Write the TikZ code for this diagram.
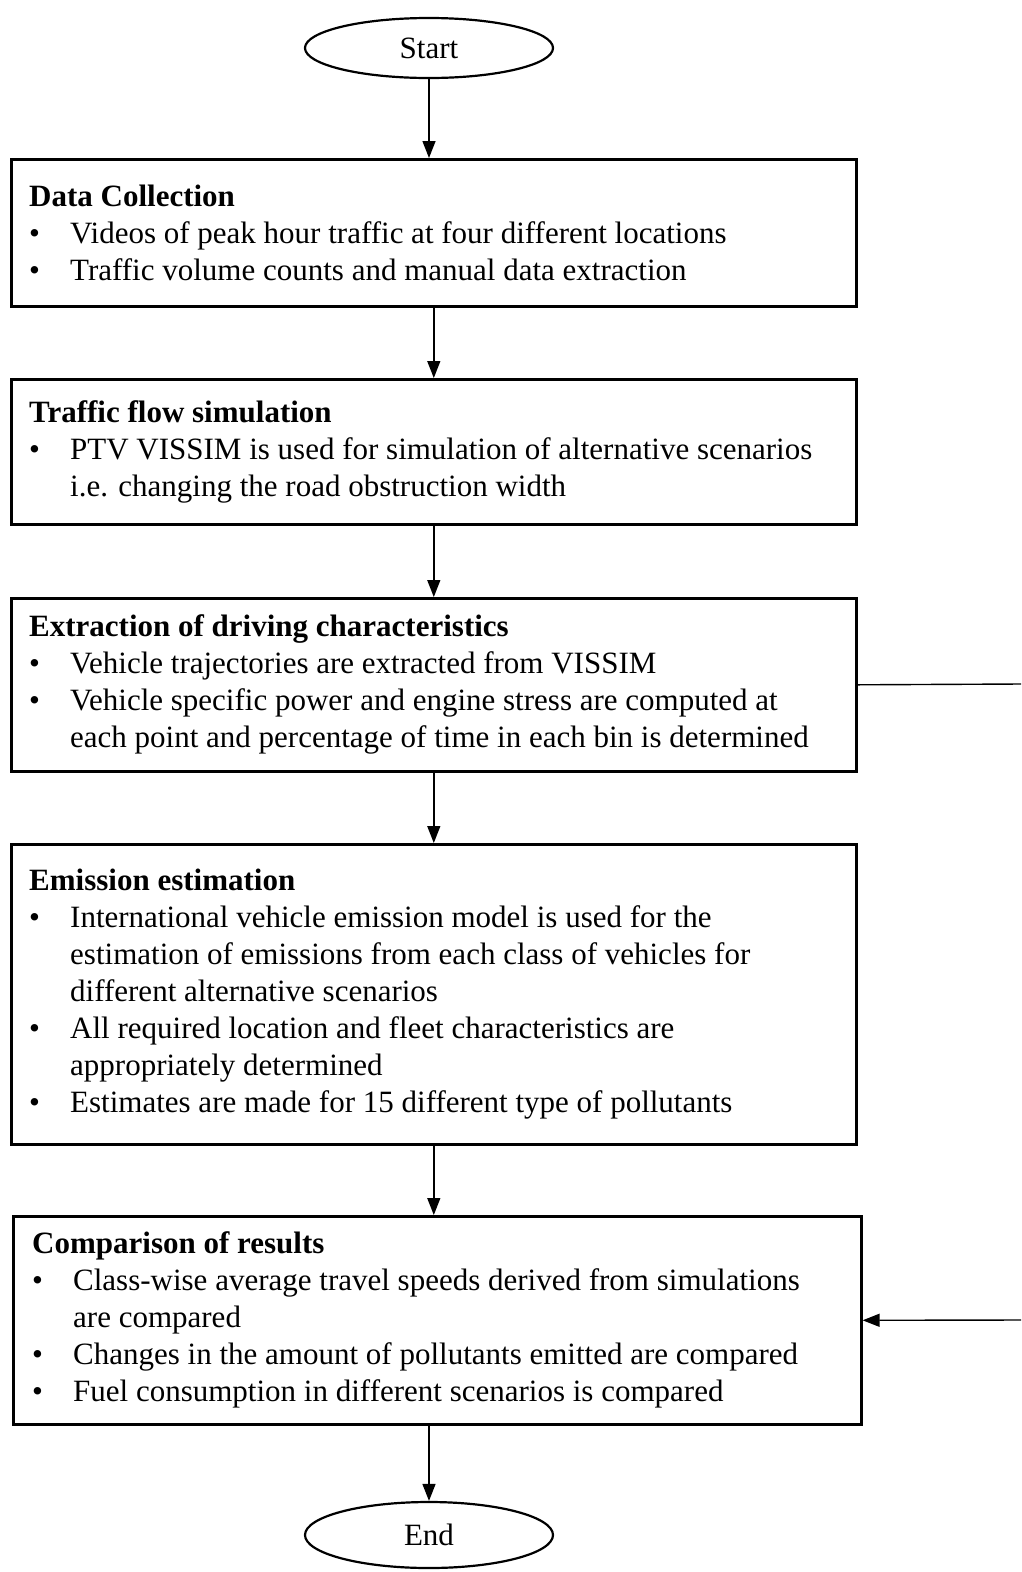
\documentclass[tikz,border=0pt]{standalone}
\usepackage{fontspec}
\setmainfont{Liberation Serif}
\usetikzlibrary{shapes.geometric,arrows.meta}
\newcommand{\bul}{\makebox[41pt][l]{\textbullet}}
\newcommand{\ind}{\hspace*{41pt}}
\begin{document}
\begin{tikzpicture}[x=1pt,y=-1pt,
  stepbox/.style={draw, line width=2.6pt, minimum width=845pt, inner sep=0pt, anchor=north west},
  term/.style={draw, ellipse, line width=2.2pt, minimum width=248pt, minimum height=60pt, inner sep=0pt, font=\fontsize{31}{37}\selectfont},
  txt/.style={anchor=west, align=left, inner sep=0pt, font=\fontsize{31}{37}\selectfont},
  conn/.style={line width=1.4pt, -{Triangle[length=17pt,width=13pt]}},
  plain/.style={line width=1.4pt}
]
\useasboundingbox (0,0) rectangle (1021,1572);

\node[term] (start) at (429,48) {Start};

\node[stepbox, minimum height=147pt] (b1) at (10,158) {};
\node[txt] (t1) at ([xshift=19pt]b1.west) {\textbf{Data Collection}\\
\bul Videos of peak hour traffic at four different locations\\
\bul Traffic volume counts and manual data extraction};

\node[stepbox, minimum height=145pt] (b2) at (10,378) {};
\node[txt] (t2) at ([xshift=19pt]b2.west) {\textbf{Traffic flow simulation}\\
\bul PTV VISSIM is used for simulation of alternative scenarios\\
\ind i.e. changing the road obstruction width};

\node[stepbox, minimum height=173pt] (b3) at (10,597) {};
\node[txt] (t3) at ([xshift=19pt]b3.west) {\textbf{Extraction of driving characteristics}\\
\bul Vehicle trajectories are extracted from VISSIM\\
\bul Vehicle specific power and engine stress are computed at\\
\ind each point and percentage of time in each bin is determined};

\node[stepbox, minimum height=300pt] (b4) at (10,843) {};
\node[txt] (t4) at ([xshift=19pt]b4.west) {\textbf{Emission estimation}\\
\bul International vehicle emission model is used for the\\
\ind estimation of emissions from each class of vehicles for\\
\ind different alternative scenarios\\
\bul All required location and fleet characteristics are\\
\ind appropriately determined\\
\bul Estimates are made for 15 different type of pollutants};

\node[stepbox, minimum width=848pt, minimum height=208pt] (b5) at (12,1215) {};
\node[txt] (t5) at ([xshift=20pt]b5.west) {\textbf{Comparison of results}\\
\bul Class-wise average travel speeds derived from simulations\\
\ind are compared\\
\bul Changes in the amount of pollutants emitted are compared\\
\bul Fuel consumption in different scenarios is compared};

\node[term, minimum height=66pt] (end) at (429,1535) {End};

\coordinate (r1) at (1021,684);
\coordinate (r2) at (1021,1320);

\draw[conn] (start.south) -- (start.south |- b1.north);
\draw[conn] (b1.south) -- (b2.north);
\draw[conn] (b2.south) -- (b3.north);
\draw[conn] (b3.south) -- (b4.north);
\draw[conn] (b4.south) -- (b4.south |- b5.north);
\draw[conn] (end.north |- b5.south) -- (end.north);
\draw[plain] (b3.east) -- (r1);
\draw[conn] (r2) -- (b5.east);
\end{tikzpicture}
\end{document}
